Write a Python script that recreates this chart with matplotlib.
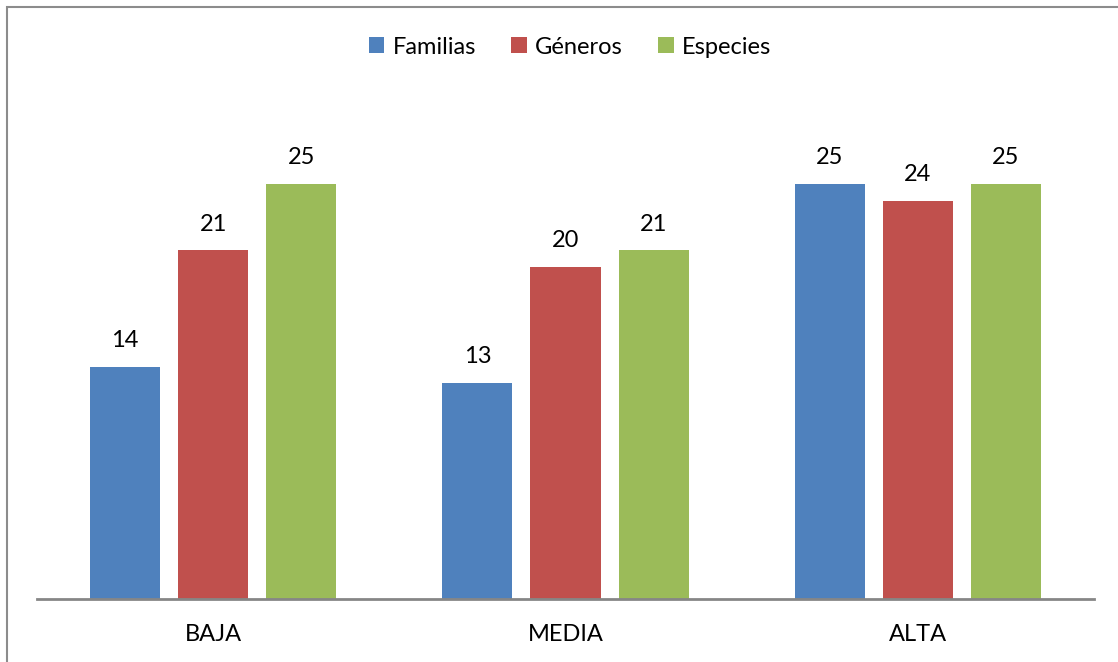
import numpy as np
import matplotlib.pyplot as plt
from matplotlib.patches import Rectangle

plt.rcParams['font.family'] = ['Lato', 'DejaVu Sans']

categorias = ['BAJA', 'MEDIA', 'ALTA']
familias = [14, 13, 25]
generos = [21, 20, 24]
especies = [25, 21, 25]

series = [('Familias', familias, '#4F81BD'),
          ('Géneros', generos, '#C0504D'),
          ('Especies', especies, '#9BBB59')]

W, H = 1118, 662
fig = plt.figure(figsize=(W / 100, H / 100), dpi=100)

# outer chart border (only left/top visible in the original)
fig.patches.append(Rectangle((7 / W, -0.1), 1.2, (H - 7) / H + 0.1,
                             transform=fig.transFigure, fill=False,
                             edgecolor='#8c8c8c', linewidth=1.5))

ax = fig.add_axes([37 / W, 63 / H, (1094 - 37) / W, 498 / H])
x = np.arange(len(categorias))
width = 70 / 352
offset = 88 / 352
for i, (name, vals, col) in enumerate(series):
    bars = ax.bar(x + (i - 1) * offset, vals, width, color=col, label=name)
    for b, v in zip(bars, vals):
        ax.text(b.get_x() + b.get_width() / 2, v + 0.95, str(v),
                ha='center', va='bottom', fontsize=17)

ax.set_xlim(-0.5, 2.5)
ax.set_ylim(0, 30)
ax.set_xticks(x)
ax.set_xticklabels(categorias, fontsize=17)
ax.tick_params(axis='x', length=0, pad=18)
ax.set_yticks([])
for s in ['top', 'right', 'left']:
    ax.spines[s].set_visible(False)
ax.spines['bottom'].set_color('#868686')
ax.spines['bottom'].set_linewidth(2)

fig.legend(loc='center', bbox_to_anchor=(570 / W, 1 - 47 / H), ncol=3,
           frameon=False, fontsize=17, handlelength=0.65, handleheight=0.65,
           handletextpad=0.35, columnspacing=1.5)

fig.savefig('out.png', dpi=100)
